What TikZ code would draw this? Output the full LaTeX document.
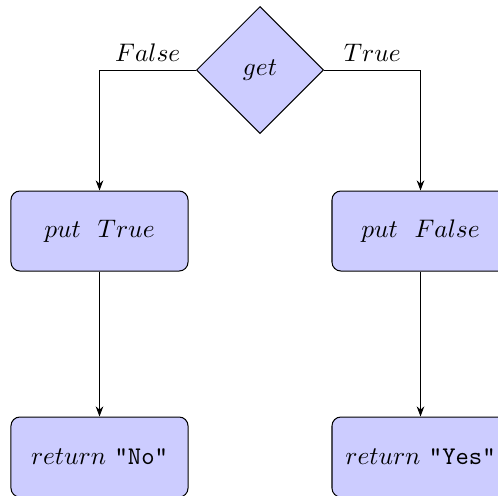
\documentclass[tikz,border=0pt]{standalone}
\usetikzlibrary{shapes.geometric,arrows.meta}

\tikzset{
  decision/.style={diamond, draw, fill=blue!20, inner sep=0pt,
    minimum width=50pt, minimum height=50pt},
  stepbox/.style={rectangle, draw, fill=blue!20, rounded corners=3.5pt,
    minimum width=69.7pt, minimum height=31.5pt, inner sep=0pt},
  flow/.style={-{Stealth[length=4pt,width=3pt]}},
}

\begin{document}
\begin{tikzpicture}[x=0.3937pt, y=-0.3937pt]
  \clip (0,0) rectangle (498,495);

  \node[decision] (get) at (260,70) {$get$};
  \node[stepbox] (putT) at (99.5,231) {$put\ \ True$};
  \node[stepbox] (putF) at (420.5,231) {$put\ \ False$};
  \node[stepbox] (retNo) at (99.5,457) {$return$ \texttt{"No"}};
  \node[stepbox] (retYes) at (420.5,457) {$return$ \texttt{"Yes"}};

  \draw[flow] (get.west) -- node[above] {$False$} (get.west -| putT.north) -- (putT.north);
  \draw[flow] (get.east) -- node[above] {$True$} (get.east -| putF.north) -- (putF.north);
  \draw[flow] (putT.south) -- (retNo.north);
  \draw[flow] (putF.south) -- (retYes.north);
\end{tikzpicture}
\end{document}
